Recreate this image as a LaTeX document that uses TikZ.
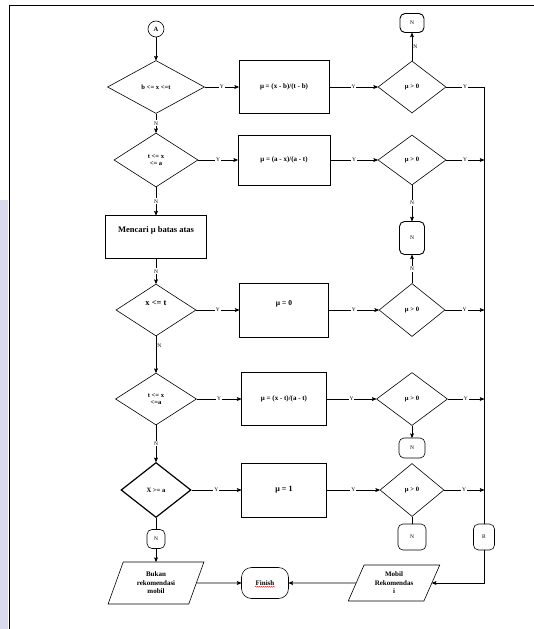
\documentclass[tikz,border=0pt]{standalone}
\usepackage{fontspec}
\setmainfont{Liberation Serif}
\usetikzlibrary{arrows,shapes.geometric,positioning,decorations.pathmorphing}

\definecolor{wmark}{RGB}{218,218,238}

\tikzset{
  dec/.style={diamond, draw, inner sep=0pt, align=center, font=\bfseries\fontsize{6.6}{7.5}\selectfont},
  proc/.style={rectangle, draw, inner sep=0pt, align=center, font=\bfseries\fontsize{7}{8}\selectfont},
  term/.style={rectangle, rounded corners=5pt, draw, inner sep=0pt, font=\fontsize{5.5}{6}\selectfont},
  io/.style={trapezium, trapezium stretches=true, draw, inner sep=0pt, align=center, font=\bfseries\fontsize{7}{8.5}\selectfont},
  lbl/.style={fill=white, inner sep=1pt, font=\fontsize{5.5}{5.5}\selectfont},
}

\begin{document}
\begin{tikzpicture}[x=1pt, y=-1pt, >=stealth', line width=0.6pt, node distance=128pt]
    \useasboundingbox (0,0) rectangle (534,629);
    \fill [wmark] (0,200) rectangle (8,629);
    \draw [line width=0.8pt] (9,629) -- (9,5) -- (534,5);

    % Nodes {row 1}
    \node [circle, draw, minimum size=16pt, inner sep=0pt, font=\bfseries\fontsize{6.5}{6.5}\selectfont] (cA) at (156,29) {A};
    \node [dec, minimum width=97pt, minimum height=53pt, node distance=58pt] (d1) [below of=cA] {b <= x <=t};
    \node [proc, minimum width=90pt, minimum height=53pt] (b1) [right of=d1] {μ = (x - b)/(t - b)};
    \node [dec, minimum width=68pt, minimum height=52pt] (q1) [right of=b1] {μ > 0};
    \node [term, line width=0.9pt, minimum width=24pt, minimum height=19pt, node distance=64pt] (t1) [above of=q1] {N};

    % Nodes {row 2}
    \node [dec, minimum width=84pt, minimum height=54pt, node distance=73pt] (d2) [below of=d1] {t <= x\\<= a};
    \node [proc, minimum width=92pt, minimum height=50pt] (b2) [right of=d2] {μ = (a - x)/(a - t)};
    \node [dec, minimum width=68pt, minimum height=50pt] (q2) [right of=b2] {μ > 0};
    \node [term, line width=0.9pt, minimum width=25pt, minimum height=33pt, node distance=78pt] (t2) [below of=q2] {N};
    \node [proc, minimum width=101pt, minimum height=43pt, font=\bfseries\fontsize{8.5}{9}\selectfont, node distance=77pt] (m) [below of=d2] {Mencari μ batas atas\\[6pt]};

    % Nodes {row 3}
    \node [dec, minimum width=80pt, minimum height=52pt, font=\bfseries\fontsize{8.5}{9}\selectfont, node distance=73pt] (d3) [below of=m] {x <= t\\[4pt]};
    \node [proc, minimum width=89pt, minimum height=54pt, font=\bfseries\fontsize{7.5}{8}\selectfont] (b3) [right of=d3] {μ = 0\\[6pt]};
    \node [dec, minimum width=66pt, minimum height=53pt] (q3) [right of=b3] {μ > 0};

    % Nodes {row 4}
    \node [dec, minimum width=81pt, minimum height=52pt, node distance=89pt] (d4) [below of=d3] {t <= x\\<=a};
    \node [proc, minimum width=85pt, minimum height=53pt] (b4) [right of=d4] {μ = (x - t)/(a - t)};
    \node [dec, minimum width=71pt, minimum height=53pt] (q4) [right of=b4] {μ > 0};
    \node [term, minimum width=26pt, minimum height=20pt, node distance=49pt] (t4) [below of=q4] {N};

    % Nodes {row 5}
    \node [dec, line width=1.2pt, minimum width=70pt, minimum height=55pt, node distance=91pt] (d5) [below of=d4] {X >= a};
    \node [proc, minimum width=85pt, minimum height=54pt, font=\bfseries\fontsize{8}{8}\selectfont] (b5) [right of=d5] {μ = 1};
    \node [dec, minimum width=64pt, minimum height=53pt] (q5) [right of=b5] {μ > 0};
    \node [term, minimum width=28pt, minimum height=26pt, node distance=47pt] (t5) [below of=q5] {N};
    \node [term, minimum width=21pt, minimum height=26pt, node distance=72pt] (tR) [right of=t5] {R};
    \node [term, minimum width=18pt, minimum height=19pt, node distance=49pt] (tL) [below of=d5] {N};

    % Nodes {end}
    \node [io, trapezium left angle=68, trapezium right angle=112, minimum width=96pt, minimum height=42pt, node distance=44pt] (pL) [below of=tL] {Bukan\\rekomendasi\\mobil};
    \node [term, rounded corners=10pt, minimum width=47pt, minimum height=31pt, font=\bfseries\fontsize{7}{8}\selectfont, node distance=109pt] (fin) [right of=pL] {Finish};
    \node [io, trapezium left angle=65, trapezium right angle=115, minimum width=92pt, minimum height=36pt, node distance=129pt] (pR) [right of=fin] {Mobil\\Rekomendas\\i};

    \coordinate (r2) at (q2 -| tR);
    \coordinate (r3) at (q3 -| tR);
    \coordinate (r4) at (q4 -| tR);
    \coordinate (r5) at (q5 -| tR);

    % Paths
    \path [->] (cA) edge (d1);
    \path [->] (d1) edge node [lbl] {Y} (b1);
    \path [->] (b1) edge node [lbl] {Y} (q1);
    \path [->] (q1) edge node [lbl, fill=none, right] {N} (t1);
    \draw (q1) -| node [lbl, pos=0.25] {Y} (tR);
    \path [->] (d1) edge node [lbl] {N} (d2);

    \path [->] (d2) edge node [lbl] {Y} (b2);
    \path [->] (b2) edge node [lbl] {Y} (q2);
    \path [->] (q2) edge node [lbl] {Y} (r2);
    \path [->] (q2) edge node [lbl] {N} (t2);
    \path [->] (d2) edge node [lbl] {N} (m);
    \path [->] (m) edge node [lbl] {N} (d3);

    \path [->] (d3) edge node [lbl] {Y} (b3);
    \path [->] (b3) edge node [lbl] {Y} (q3);
    \path [->] (q3) edge node [lbl] {Y} (r3);
    \path [->] (q3) edge node [lbl] {N} (t2);
    \path [->] (d3) edge node [lbl, fill=none, right, pos=0.25] {N} (d4);

    \path [->] (d4) edge node [lbl] {Y} (b4);
    \path [->] (b4) edge node [lbl] {Y} (q4);
    \path [->] (q4) edge node [lbl] {Y} (r4);
    \path [->] (q4) edge (t4);
    \path [->] (d4) edge node [lbl] {N} (d5);

    \path [->] (d5) edge node [lbl] {Y} (b5);
    \path [->] (b5) edge node [lbl] {Y} (q5);
    \path [->] (q5) edge node [lbl] {Y} (r5);
    \path [-]  (q5) edge (t5);
    \path [-]  (d5) edge (tL);
    \path [->] (tL) edge (pL);

    \draw [->] (tR) |- (pR);
    \path [->] (pL) edge (fin);
    \path [->] (pR) edge (fin);
    \draw [red, line width=0.4pt, decorate, decoration={snake, amplitude=0.5pt, segment length=2pt}]
        ([xshift=-10pt, yshift=-3.8pt]fin.center) -- ([xshift=10pt, yshift=-3.8pt]fin.center);

\end{tikzpicture}
\end{document}
